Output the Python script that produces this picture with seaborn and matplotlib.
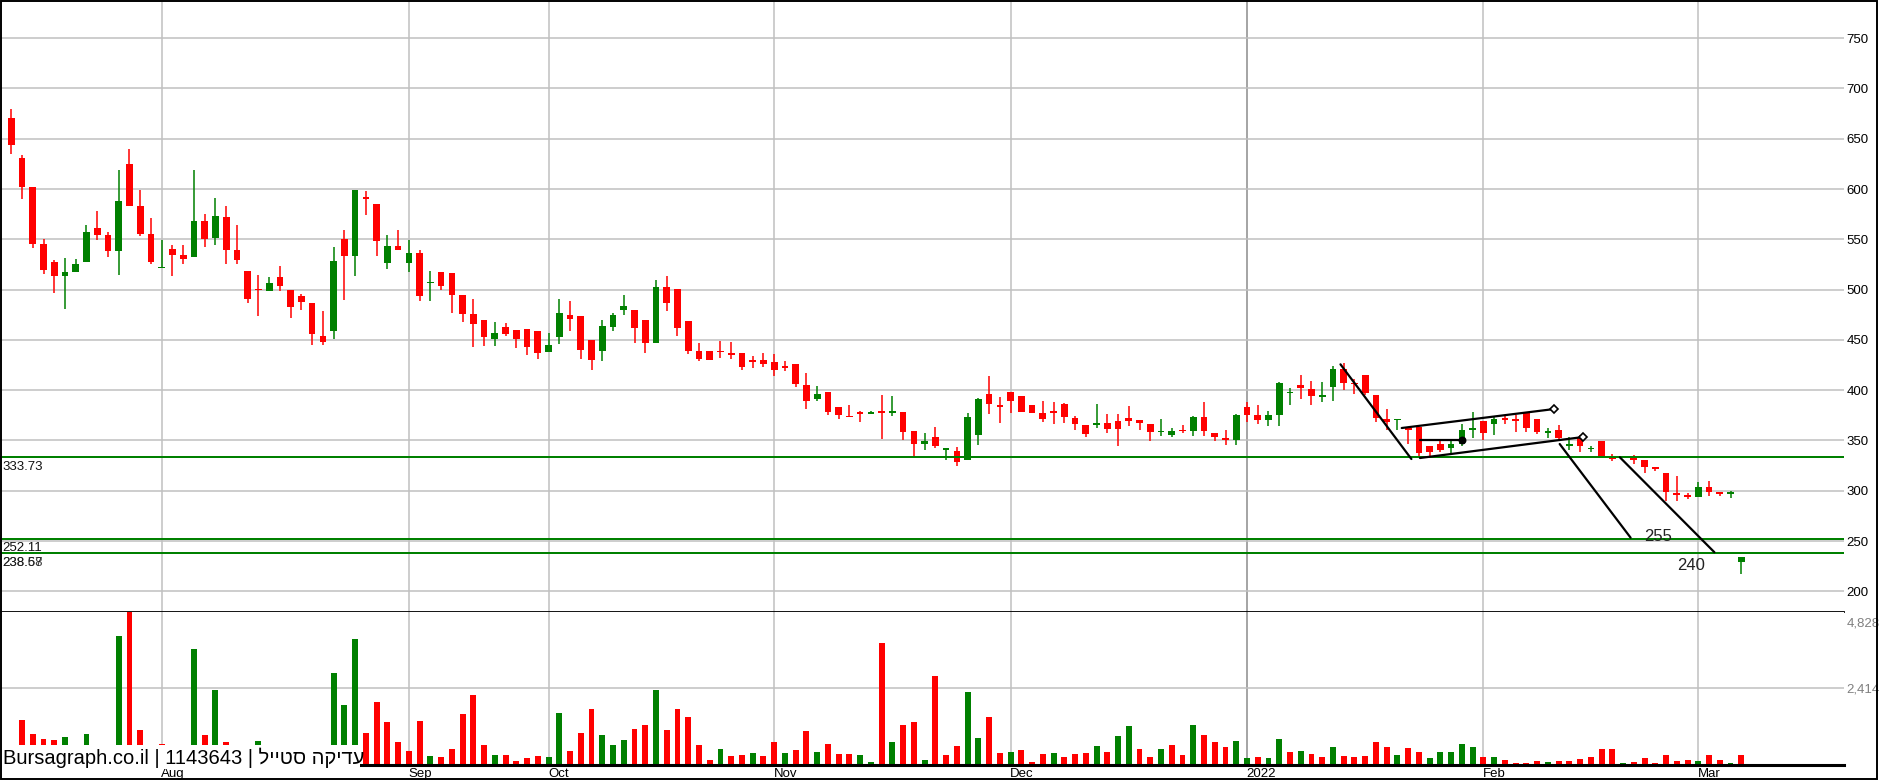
import matplotlib
matplotlib.use("Agg")
import matplotlib.pyplot as plt
import numpy as np
import pandas as pd
import seaborn as sns
from matplotlib.patches import Rectangle

# daily candles, one per trading day (index 0 = mid July 2021, 161 = 7 Mar 2022)
opens = [670.5, 630.8, 602, 545.4, 527.5, 514, 517.9, 527.9, 561.3, 554.4,
         538.8, 624.9, 583.2, 555.4, 521.3, 540.5, 534.5, 532.8, 568.3, 551.7,
         572.2, 539.5, 518.6, 500.4, 499, 512.7, 499.8, 493.8, 486.8, 454,
         458.4, 550.7, 533.2, 591, 585, 526, 543.4, 526.8, 536.4, 506.3,
         517.6, 516.6, 494.7, 475.9, 469.9, 450.4, 462.9, 460, 461, 459,
         437.5, 452.4, 474.9, 473.9, 450, 439.4, 463.3, 479.8, 479.8, 469.9,
         447.4, 502.7, 500.7, 468.9, 439.1, 439.1, 439.1, 437.1, 437.1, 429,
         430.2, 428.2, 424.2, 426.2, 405.4, 390.8, 398.3, 383.4, 373.5, 378.5,
         376.5, 378.5, 377.8, 378.5, 359.6, 347, 353.7, 340.1, 339.8, 330.2,
         355, 396.4, 385.4, 398.3, 394.4, 385.4, 377.5, 379.5, 386.4, 372.5,
         365.6, 365.6, 367.6, 369.5, 372.5, 370.5, 366.6, 358, 355, 360,
         359, 373.5, 357.6, 352.7, 350, 383.4, 375.5, 370.5, 375.8, 397,
         405.3, 401.3, 393.7, 403.6, 421.2, 407.3, 415.2, 395.4, 371.2, 370,
         360.8, 363.3, 344.4, 346.7, 342.1, 347, 360.9, 369.5, 366.2, 371.5,
         370.2, 377.5, 371.5, 357.6, 360.6, 344.7, 353.3, 341.4, 349, 334.8,
         333.2, 333.5, 330.2, 322.9, 317.9, 298.1, 295.4, 293.4, 303.3, 299,
         297, 229.2]
highs = [679.5, 633.5, 602, 550, 529.5, 531.5, 530.5, 564.3, 578, 557.3,
         619, 639.8, 599, 571.2, 549.4, 544.5, 544.5, 619, 575.2, 591,
         583.2, 564.3, 518.6, 514.6, 512.7, 523.6, 499.8, 495.8, 486.8, 479.2,
         542.8, 559.6, 599, 598, 585, 554, 559.6, 549.3, 539.4, 518.6,
         517.6, 516.6, 494.7, 490.8, 469.9, 467.9, 466.9, 460, 461, 459,
         457, 490.8, 488.8, 473.9, 450, 469.9, 476.9, 494.7, 479.8, 469.9,
         509.6, 513.6, 500.7, 468.9, 447, 439.1, 449, 448, 437.1, 434,
         437.1, 436.1, 429.2, 426.2, 417.3, 403.7, 398.3, 383.4, 385.4, 379.5,
         379.5, 395.4, 394.4, 378.5, 359.6, 357.6, 363.6, 342.7, 343.7, 377.5,
         392.7, 414.2, 393.4, 398.3, 394.4, 385.4, 389.4, 388.4, 387.4, 374.5,
         365.6, 386.4, 376.5, 376.5, 384.4, 370.5, 366.6, 371.5, 362.9, 365.6,
         374.5, 388.4, 357.6, 360, 376.5, 388.4, 384.8, 379.5, 408.3, 402,
         415.2, 409.3, 408.3, 424.2, 426.8, 411.3, 415.2, 395.4, 381.5, 371.5,
         363.3, 363.3, 344.4, 349, 349, 366.2, 378.5, 369.5, 373.2, 373.9,
         375.8, 378.5, 371.5, 362.6, 365.2, 353.3, 355, 344.7, 349, 336.8,
         334.1, 335.8, 330.2, 322.9, 317.9, 314.3, 298.1, 308.3, 309.3, 299,
         299.3, 234.5]
lows = [635, 590.4, 541.8, 516, 497, 481, 517.9, 527.9, 549.7, 532.8,
        515, 583.5, 553.7, 525, 521.3, 514, 525, 532.8, 542.8, 544.8,
        525.9, 525, 487, 474, 499, 499, 471.3, 480, 444.5, 444.5,
        450.4, 490, 514, 574.5, 533, 520, 539.8, 517.6, 489.1, 489.1,
        499.7, 477.2, 468.2, 443.4, 444.4, 444.4, 454.3, 442.4, 434.5, 431.5,
        437.5, 446.4, 459.3, 431.5, 419.6, 429.5, 459.3, 474.9, 447.4, 436.5,
        447.4, 479.2, 454.3, 435.5, 429.5, 430.5, 432.5, 431.5, 419.6, 421.6,
        422.6, 414.6, 418.6, 402.7, 380.9, 388.8, 375.8, 371.5, 373.2, 368.6,
        376.5, 351.7, 373.9, 350.7, 334.1, 340.1, 342.1, 330.2, 324.2, 330.2,
        345.1, 376.8, 366.9, 377.8, 378.8, 377.8, 367.9, 365.9, 366.9, 360,
        353, 362.9, 357, 344.1, 364.9, 360, 349, 354, 353, 357.6,
        354, 354, 349, 345.1, 346, 368.6, 366.2, 364.9, 364.9, 384.8,
        391.4, 384.8, 388.7, 389.7, 400.3, 396.7, 395.4, 367.9, 360, 360,
        347, 333.1, 334.5, 338.8, 337.4, 344.7, 352, 350, 355.3, 366.2,
        358.6, 358.6, 356.3, 352, 350, 340.8, 338.8, 338.1, 334.8, 329.2,
        332.1, 326.8, 317.6, 319.2, 289.4, 290, 291.8, 293.4, 295.1, 294.4,
        292.4, 217.3]
closes = [644, 602.4, 545.8, 519, 514, 517.6, 525.6, 557.3, 554.7, 538.8,
          588, 583.5, 555.7, 527.9, 521.6, 534.8, 530.9, 568.3, 550.7, 573.2,
          539.8, 529.9, 491, 499.4, 506.7, 504, 483.2, 487.2, 455.4, 447.5,
          528.5, 533.2, 599, 590.4, 548.7, 543.4, 539.8, 536.4, 494, 507.6,
          504, 495, 476.2, 466.3, 452.4, 457, 456.3, 450.4, 443.4, 436.5,
          445, 476.9, 471.2, 440.4, 430.5, 463.9, 474.9, 483.8, 462.3, 447.4,
          502.7, 487.1, 462.3, 439.4, 431.5, 430.5, 437.5, 434.5, 422.6, 428.5,
          425.6, 419.6, 421.6, 405.7, 388.8, 396.4, 378.5, 375.8, 373.2, 376.5,
          378.5, 377.8, 378.5, 358, 347, 349.7, 345, 342.7, 328.2, 373.5,
          391.4, 385.8, 382.8, 389.7, 378.8, 377.8, 370.9, 377.8, 372.9, 365.9,
          356, 366, 361, 361.9, 368.9, 366.9, 358, 359.6, 359.2, 359,
          373.5, 359, 353, 350, 375.5, 375.8, 370.5, 375.5, 407.3, 397.7,
          401.7, 394.7, 394.4, 421.2, 407.6, 406, 397.7, 371.9, 367.9, 370.5,
          360.6, 337.4, 338.8, 340.8, 346.7, 360.3, 361.9, 357, 371.5, 370.5,
          369.5, 362.9, 358.3, 358.6, 352, 345.4, 344.1, 341.7, 334.8, 331.5,
          333.5, 330.2, 323.5, 321.6, 298.4, 295.4, 293.4, 303.3, 299, 296.7,
          298, 234.5]
volumes = [0, 1408, 963, 805, 773, 868, 0, 963, 0, 0,
           4076, 4828, 1091, 0, 646, 0, 0, 3663, 932, 2361,
           709, 0, 614, 741, 0, 0, 0, 0, 0, 0,
           2901, 1885, 3981, 995, 1980, 1345, 709, 423, 1376, 265,
           233, 487, 1599, 2202, 614, 296, 296, 106, 201, 265,
           233, 1630, 423, 995, 1758, 932, 614, 773, 1122, 1249,
           2361, 1091, 1758, 1503, 614, 138, 487, 265, 296, 360,
           265, 709, 360, 455, 1059, 392, 646, 328, 328, 296,
           74, 3854, 709, 1249, 1345, 138, 2806, 296, 582, 2298,
           836, 1503, 360, 392, 455, 74, 328, 360, 233, 328,
           360, 582, 392, 900, 1218, 487, 233, 487, 614, 296,
           1249, 932, 709, 551, 741, 201, 233, 201, 805, 392,
           423, 328, 233, 551, 265, 233, 265, 709, 551, 296,
           519, 392, 201, 392, 392, 646, 551, 233, 233, 138,
           42, 42, 106, 74, 106, 106, 169, 233, 487, 487,
           42, 74, 201, 42, 296, 106, 138, 106, 296, 138,
           42, 296]

# first trading day of each month (candle index)
month_idx = [14, 37, 50, 71, 93, 115, 137, 157]
month_labels = ["Aug", "Sep", "Oct", "Nov", "Dec", "2022", "Feb", "Mar"]

price_ticks = list(range(200, 800, 50))
vol_ticks = [2414, 4828]

# support levels drawn on the chart
levels = [333.73, 252.11, 238.67, 238.58]
level_labels = ["333.73", "252.11", "238.67", "238.58"]
level_widths = [2, 2, 1, 1]

# hand-drawn trend lines: (index, price) start and end
trend_lines = [((123.7, 425.7), (130.3, 331.6)),
               ((129.4, 362.4), (143.6, 381.3)),
               ((131.1, 332.6), (146.3, 353.5)),
               ((131.1, 350.2), (135.0, 350.2)),
               ((144.1, 346.5), (150.7, 253.4)),
               ((149.7, 333.3), (158.5, 238.9))]
trend_markers = [None, "D", "D", "o", None, None]
targets = [("255", 151.95, 254.4), ("240", 155.0, 225.9)]

name = "עדיקה סטייל"
watermark = "Bursagraph.co.il | 1143643 | " + name[::-1]  # visual order for RTL

RED, GREEN = "#ff0000", "#008000"

sns.set_style("white")
plt.rcParams["font.family"] = ["Liberation Sans", "DejaVu Sans"]

W, H = 1879, 780
fig = plt.figure(figsize=(W / 100, H / 100), dpi=100)


def px_axes(x0, y0, x1, y1):
    return fig.add_axes([x0 / W, 1 - y1 / H, (x1 - x0) / W, (y1 - y0) / H])


ax = px_axes(0, 0, 1844, 612)
axv = px_axes(0, 612, 1844, 764.5)

n = len(closes)
idx = np.arange(n)
o, h, l, c = map(np.array, (opens, highs, lows, closes))
up = c >= o
cols = np.where(up, GREEN, RED)
xlim = (-1.05, 170.56)

# month gridlines
for a in (ax, axv):
    for m, lab in zip(month_idx, month_labels):
        a.axvline(m, color="#8c8c8c" if lab == "2022" else "#c0c0c0",
                  lw=1.1, zorder=0)

# candles
ax.vlines(idx, l, h, colors=cols, lw=1.1, zorder=2)
body_lo = np.minimum(o, c)
body_h = np.maximum(np.abs(c - o), 1.6)
ax.bar(idx, body_h, bottom=body_lo, width=0.62, color=cols, lw=0, zorder=3)

for lv, lw in zip(levels, level_widths):
    ax.axhline(lv, color=GREEN, lw=lw * 0.72, zorder=4)
ax.text(0.0015, levels[0] - 4.5, level_labels[0], transform=ax.get_yaxis_transform(),
        va="top", ha="left", fontsize=9.5, color="#111")
ax.text(0.0015, levels[1] - 3.5, level_labels[1], transform=ax.get_yaxis_transform(),
        va="top", ha="left", fontsize=9.5, color="#111")
for lab in level_labels[2:]:
    ax.text(0.0015, levels[2] - 4.2, lab, transform=ax.get_yaxis_transform(),
            va="top", ha="left", fontsize=9.5, color="#111", alpha=0.8)

for (p0, p1), mk in zip(trend_lines, trend_markers):
    ax.plot([p0[0], p1[0]], [p0[1], p1[1]], color="black", lw=1.6,
            solid_capstyle="round", zorder=5)
    if mk:
        ax.plot([p1[0]], [p1[1]], marker=mk, ms=4 if mk == "D" else 4.5,
                mfc="white" if mk == "D" else "black", mec="black", mew=1.2,
                zorder=6)
for txt, x, y in targets:
    ax.text(x, y, txt, fontsize=12, color="#222", ha="left", va="center",
            zorder=6)

ax.set_xlim(*xlim)
ax.set_ylim(179.5, 787.9)
ax.set_yticks(price_ticks)
ax.yaxis.tick_right()
ax.tick_params(axis="y", length=0, pad=2, labelsize=9.5, labelcolor="black")
ax.set_xticks([])
ax.grid(axis="y", color="#c0c0c0", lw=1.1, zorder=0)
ax.grid(axis="x", visible=False)
for s in ("top", "left", "right"):
    ax.spines[s].set_visible(False)
ax.spines["bottom"].set_color("black")
ax.spines["bottom"].set_linewidth(1.3)

# volume panel
dirs = ["down"] + ["up" if c[i] >= c[i - 1] else "down" for i in range(1, n)]
vol_df = pd.DataFrame({"day": idx, "volume": volumes, "dir": dirs})
sns.barplot(data=vol_df, x="day", y="volume", hue="dir",
            palette={"up": GREEN, "down": RED}, dodge=False, width=0.55,
            saturation=1, errorbar=None, legend=False, linewidth=0, ax=axv)
axv.set_xlim(*xlim)
axv.set_ylim(0, 4828)
axv.set_xlabel("")
axv.set_ylabel("")
axv.set_xticks([])
axv.set_yticks([vol_ticks[0]])
axv.set_yticklabels(["2,414"])
axv.yaxis.tick_right()
axv.tick_params(axis="y", length=0, pad=2, labelsize=9.5, labelcolor="#808080")
axv.grid(axis="y", color="#c0c0c0", lw=1.1)
axv.set_axisbelow(True)
axv.text(1.0015, 1 - 12 / 152.5, "4,828", transform=axv.transAxes, fontsize=9.5,
         color="#808080", ha="left", va="center")
for s in ("top", "left", "right"):
    axv.spines[s].set_visible(False)
axv.spines["bottom"].set_color("black")
axv.spines["bottom"].set_linewidth(2.2)

for m, lab in zip(month_idx, month_labels):
    axv.text(m - 0.05, -0.062, lab, transform=axv.get_xaxis_transform(),
             ha="left", va="center", fontsize=9.5, color="black")

# watermark box over the lower-left of the volume panel
fig.patches.append(Rectangle((0, 1 - 769 / H), 360 / W, 24 / H,
                             transform=fig.transFigure, facecolor="white",
                             edgecolor="none", zorder=1))
fig.text(3 / W, 1 - 764 / H, watermark, fontsize=14.5, color="black",
         ha="left", va="baseline", zorder=3)

fig.patches.append(Rectangle((0.0004, 0.0008), 0.9988, 0.998,
                             transform=fig.transFigure, fill=False,
                             edgecolor="black", lw=1.4, zorder=10))

fig.savefig("out.png", dpi=100)
